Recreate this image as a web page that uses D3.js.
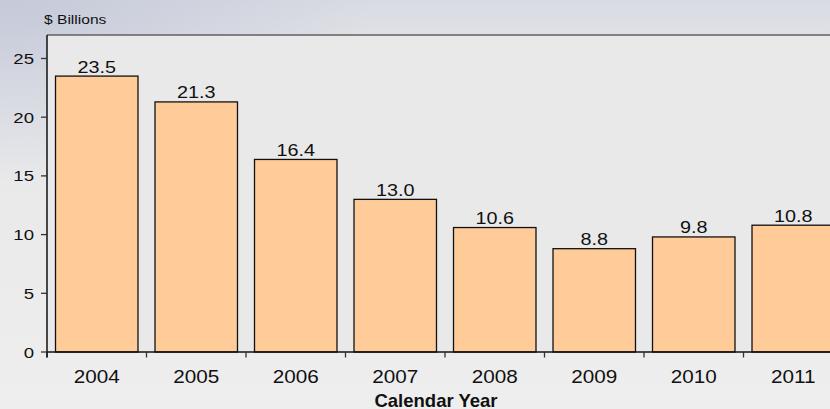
<!DOCTYPE html>
<html>
<head>
<meta charset="utf-8">
<style>
    html, body { margin: 0; padding: 0; }
    body { width: 830px; height: 409px; overflow: hidden; }
    svg { display: block; }
</style>
<script src="https://cdn.jsdelivr.net/npm/d3@7"></script>
</head>
<body>
<div class="d3-graph d3-bar-chart"></div>
<script>
var years = ["2004", "2005", "2006", "2007", "2008", "2009", "2010", "2011"];
var billions = [23.5, 21.3, 16.4, 13.0, 10.6, 8.8, 9.8, 10.8];
var yTicks = [0, 5, 10, 15, 20, 25];
var yUnitLabel = "$ Billions";
var xTitle = "Calendar Year";

(function () {
    "use strict";

    var config = {
        selector: '.d3-graph.d3-bar-chart',
        width: 830,
        height: 409,
        // plot box: left axis at 47, zero line at 352, top border at 35
        plot: { left: 47, top: 35, bottom: 352, right: 843 },
        yMax: 27,
        font: '"Liberation Sans", Arial, sans-serif',
        stretch: 1.2
    };

    function stretchedText(g, x, y, sx) {
        return g.append("text")
            .attr("transform", "translate(" + x + "," + y + ") scale(" + sx + ",1)");
    }

    function drawGraph() {
        var p = config.plot;
        var svg = d3.select(config.selector).append("svg")
            .attr("width", config.width)
            .attr("height", config.height)
            .style("font-family", config.font);

        // background wash, bluish at the top left
        var defs = svg.append("defs");
        var lin = defs.append("linearGradient").attr("id", "bgLin")
            .attr("x1", 0).attr("y1", 0).attr("x2", 0).attr("y2", 1);
        lin.append("stop").attr("offset", "0%").attr("stop-color", "#d9dbe3");
        lin.append("stop").attr("offset", "18%").attr("stop-color", "#e7e7e9");
        lin.append("stop").attr("offset", "100%").attr("stop-color", "#eeeeee");
        var rad = defs.append("radialGradient").attr("id", "bgRad")
            .attr("cx", 0).attr("cy", 0).attr("r", 0.45);
        rad.append("stop").attr("offset", "0%").attr("stop-color", "#c3c8d8").attr("stop-opacity", 0.9);
        rad.append("stop").attr("offset", "100%").attr("stop-color", "#c3c8d8").attr("stop-opacity", 0);

        svg.append("rect").attr("width", config.width).attr("height", config.height).attr("fill", "url(#bgLin)");
        svg.append("rect").attr("width", config.width).attr("height", config.height).attr("fill", "url(#bgRad)");

        // plot area
        svg.append("rect")
            .attr("x", p.left).attr("y", p.top)
            .attr("width", config.width - p.left).attr("height", p.bottom - p.top)
            .attr("fill", "#e9e9e9");

        var x = d3.scaleBand()
            .domain(years)
            .range([p.left, p.right])
            .paddingInner(0.171)
            .paddingOuter(0.0855);

        var y = d3.scaleLinear()
            .domain([0, config.yMax])
            .range([p.bottom, p.top]);

        var data = years.map(function (d, i) { return { year: d, value: billions[i] }; });

        // top border
        svg.append("line")
            .attr("x1", p.left).attr("x2", config.width)
            .attr("y1", p.top).attr("y2", p.top)
            .attr("stroke", "#5f5f5f").attr("stroke-width", 1.6);

        // bars
        svg.append("g").selectAll("rect")
            .data(data)
            .enter().append("rect")
            .attr("x", function (d) { return x(d.year); })
            .attr("y", function (d) { return y(d.value); })
            .attr("width", x.bandwidth())
            .attr("height", function (d) { return y(0) - y(d.value); })
            .attr("fill", "#ffcc99")
            .attr("stroke", "#111")
            .attr("stroke-width", 1.3);

        // value labels
        var labels = svg.append("g").attr("font-size", 16.5).attr("fill", "#111").attr("text-anchor", "middle");
        data.forEach(function (d) {
            stretchedText(labels, x(d.year) + x.bandwidth() / 2, y(d.value) - 3.5, config.stretch)
                .text(d.value.toFixed(1));
        });

        // x axis: ticks on category boundaries
        var step = x.step();
        var bounds = years.map(function (d) { return x(d) - x.paddingInner() * step / 2; });
        var xAxis = svg.append("g");
        xAxis.append("line")
            .attr("x1", p.left).attr("x2", config.width)
            .attr("y1", y(0)).attr("y2", y(0))
            .attr("stroke", "#111").attr("stroke-width", 1.5);
        xAxis.selectAll("line.tick")
            .data(bounds)
            .enter().append("line")
            .attr("class", "tick")
            .attr("x1", function (d) { return d; }).attr("x2", function (d) { return d; })
            .attr("y1", y(0)).attr("y2", y(0) + 5.5)
            .attr("stroke", "#333").attr("stroke-width", 1.3);
        var xLabels = xAxis.append("g").attr("font-size", 18).attr("fill", "#111").attr("text-anchor", "middle");
        years.forEach(function (d) {
            stretchedText(xLabels, x(d) + x.bandwidth() / 2, 383, 1.15).text(d);
        });

        // y axis
        var yAxis = svg.append("g");
        yAxis.append("line")
            .attr("x1", p.left).attr("x2", p.left)
            .attr("y1", p.top).attr("y2", y(0) + 5.5)
            .attr("stroke", "#111").attr("stroke-width", 1.5);
        yAxis.selectAll("line.tick")
            .data(yTicks)
            .enter().append("line")
            .attr("class", "tick")
            .attr("x1", p.left - 6).attr("x2", p.left)
            .attr("y1", function (d) { return y(d); }).attr("y2", function (d) { return y(d); })
            .attr("stroke", "#333").attr("stroke-width", 1.3);
        var yLabels = yAxis.append("g").attr("font-size", 15.5).attr("fill", "#111").attr("text-anchor", "end");
        yTicks.forEach(function (d) {
            stretchedText(yLabels, 34, y(d) + 5.5, config.stretch).text(d);
        });

        // unit label and axis title
        stretchedText(svg, 44, 24.3, config.stretch)
            .attr("font-size", 13).attr("fill", "#111")
            .text(yUnitLabel);

        svg.append("text")
            .attr("x", 436).attr("y", 406.5)
            .attr("text-anchor", "middle")
            .attr("font-size", 18.5).attr("font-weight", "bold").attr("fill", "#111")
            .text(xTitle);
    }

    drawGraph();
})();
</script>
</body>
</html>
